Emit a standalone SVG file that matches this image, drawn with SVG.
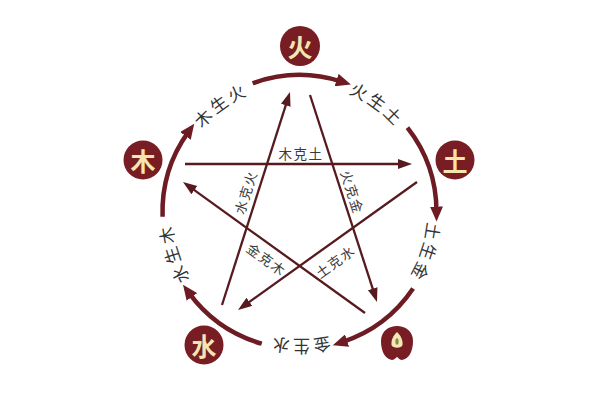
<svg xmlns="http://www.w3.org/2000/svg" xmlns:xlink="http://www.w3.org/1999/xlink" width="600" height="400" viewBox="0 0 600 400">
  <style>
    .arc { fill: none; stroke: #6d1c23; stroke-width: 4.5; marker-end: url(#arcHead); }
    .star { fill: none; stroke: #571a1f; stroke-width: 2.3; marker-end: url(#starHead); }
    .node { fill: #771d23; }
    .nodeText { fill: #f5e6b0; font-family: "Noto Sans CJK SC", sans-serif; font-size: 25px; font-weight: bold; text-anchor: middle; dominant-baseline: central; }
    .ringText { fill: #333333; font-family: "Noto Sans CJK SC", sans-serif; font-size: 17px; letter-spacing: 4px; dominant-baseline: central; }
    .starText { fill: #3a3a3a; font-family: "Noto Sans CJK SC", sans-serif; font-size: 13.5px; letter-spacing: 1.5px; text-anchor: middle; dominant-baseline: central; }
  </style>
  <defs>
    <marker id="arcHead" markerUnits="userSpaceOnUse" markerWidth="16" markerHeight="13" refX="5" refY="6.5" orient="auto">
      <path d="M0,0 L15,6.5 L0,13 Z" fill="#6d1c23"/>
    </marker>
    <marker id="starHead" markerUnits="userSpaceOnUse" markerWidth="15" markerHeight="11" refX="6" refY="5" orient="auto">
      <path d="M0,0 L14,5 L0,10 Z" fill="#571a1f"/>
    </marker>
    <path id="ring" d="M 435.5 212 A 136 136 0 1 1 163.5 212 A 136 136 0 1 1 435.5 212"/>
  </defs>
  <rect width="600" height="400" fill="#ffffff"/>

  <g id="connectors">
    <!-- generating cycle (outer arcs) -->
    <path class="arc" d="M 162.58 216.78 A 137 137 0 0 1 188.38 131.85"/>
    <path class="arc" d="M 252.64 83.26 A 137 137 0 0 1 341.38 81.56"/>
    <path class="arc" d="M 407.46 127.65 A 137 137 0 0 1 436.5 211.52"/>
    <path class="arc" d="M 413.08 288.61 A 137 137 0 0 1 342.29 342.15"/>
    <path class="arc" d="M 261.74 343.7 A 137 137 0 0 1 188.94 292.91"/>
    <!-- controlling cycle (star) -->
    <line class="star" x1="185" y1="164" x2="404" y2="164"/>
    <line class="star" x1="417" y1="182" x2="244.5" y2="305.35"/>
    <line class="star" x1="222" y1="305" x2="287.57" y2="99.62"/>
    <line class="star" x1="310" y1="95" x2="374.54" y2="294.39"/>
    <line class="star" x1="365" y1="313" x2="189.49" y2="186.67"/>
  </g>

  <g id="ring-labels">
    <text class="ringText"><textPath xlink:href="#ring" href="#ring" startOffset="65%" text-anchor="middle">木生火</textPath></text>
    <text class="ringText"><textPath xlink:href="#ring" href="#ring" startOffset="85%" text-anchor="middle">火生土</textPath></text>
    <text class="ringText"><textPath xlink:href="#ring" href="#ring" startOffset="5%" text-anchor="middle">土生金</textPath></text>
    <text class="ringText"><textPath xlink:href="#ring" href="#ring" startOffset="25%" text-anchor="middle">金生水</textPath></text>
    <text class="ringText"><textPath xlink:href="#ring" href="#ring" startOffset="45%" text-anchor="middle">水生木</textPath></text>
  </g>

  <g id="star-labels">
    <text class="starText" transform="translate(301,153)">木克土</text>
    <text class="starText" transform="translate(245,192) rotate(-72.3)">水克火</text>
    <text class="starText" transform="translate(353,192) rotate(72)">火克金</text>
    <text class="starText" transform="translate(267,259) rotate(36)">金克木</text>
    <text class="starText" transform="translate(335,261) rotate(-35.4)">土克水</text>
  </g>

  <g id="node-fire">
    <circle class="node" cx="300" cy="46" r="20"/>
    <text class="nodeText" x="300" y="46">火</text>
  </g>
  <g id="node-wood">
    <circle class="node" cx="143" cy="160" r="19.5"/>
    <text class="nodeText" x="143" y="160">木</text>
  </g>
  <g id="node-earth">
    <circle class="node" cx="455" cy="160" r="19.5"/>
    <text class="nodeText" x="455" y="160">土</text>
  </g>
  <g id="node-water">
    <circle class="node" cx="204" cy="345" r="19.5"/>
    <text class="nodeText" x="204" y="345">水</text>
  </g>
  <g id="node-metal">
    <path class="node" d="M 381 341 C 381 331, 389 326, 397 326 C 405 326, 413 331, 413 341 C 413 351, 409 359, 402 360 C 399 360, 398 357, 397 357 C 396 357, 395 360, 392 360 C 385 359, 381 351, 381 341 Z"/>
    <path d="M 397 332 C 401 336, 403 340, 402.5 345 C 401.5 348.5, 392.5 348.5, 391.5 345 C 391 340, 393 336, 397 332 Z" fill="#f3e8b8"/>
    <ellipse cx="397" cy="341.5" rx="1.6" ry="3.2" fill="#8c8a45"/>
  </g>
</svg>
